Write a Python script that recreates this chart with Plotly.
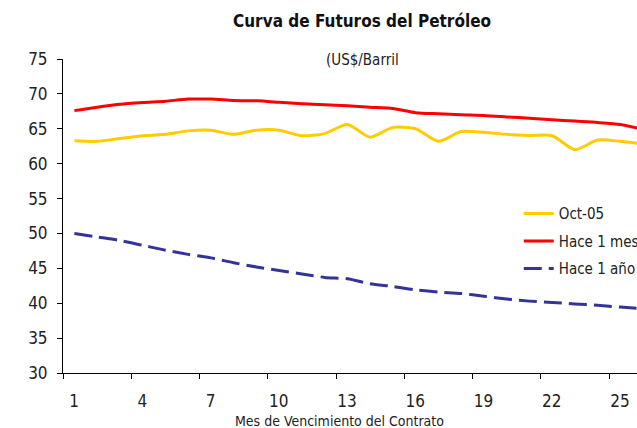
import plotly.graph_objects as go

months = list(range(1, 27))
oct05 = [63.3, 63.2, 63.6, 64.0, 64.2, 64.7, 64.8, 64.2, 64.8, 64.8, 64.0, 64.3,
         65.6, 63.8, 65.2, 65.0, 63.2, 64.6, 64.5, 64.2, 64.05, 64.0, 62.0, 63.4,
         63.2, 62.8]
hace_mes = [67.6, 68.1, 68.5, 68.75, 68.95, 69.25, 69.25, 69.05, 69.0, 68.8, 68.6, 68.45,
            68.3, 68.1, 67.9, 67.3, 67.15, 67.0, 66.9, 66.7, 66.5, 66.3, 66.1, 65.9,
            65.6, 64.9]
hace_anio = [50.0, 49.5, 49.0, 48.3, 47.6, 47.0, 46.5, 45.8, 45.2, 44.7, 44.2, 43.7,
             43.5, 42.8, 42.4, 41.9, 41.6, 41.4, 41.0, 40.6, 40.3, 40.1, 39.9, 39.7,
             39.45, 39.2]

tick_labels = ["1", "4", "7", "10", "13", "16", "19", "22", "25"]
label_months = [1, 4, 7, 10, 13, 16, 19, 22, 25]
boundary_ticks = [m - 0.5 for m in label_months]

FONT = "DejaVu Sans Condensed, Liberation Sans Narrow, Arial Narrow, sans-serif"

fig = go.Figure()
fig.add_trace(go.Scatter(x=months, y=oct05, name="Oct-05", mode="lines", legendgroup="a",
                         line=dict(color="#FFCC00", width=3, shape="spline", smoothing=0.7)))
fig.add_trace(go.Scatter(x=months, y=hace_mes, name="Hace 1 mes", mode="lines", legendgroup="b",
                         line=dict(color="#FF0000", width=3, shape="spline", smoothing=0.7)))
fig.add_trace(go.Scatter(x=months, y=hace_anio, name="Hace 1 año", mode="lines", legendgroup="c",
                         line=dict(color="#333399", width=3, dash="18px,7px",
                                   shape="spline", smoothing=0.7)))

fig.update_layout(
    width=637, height=428,
    margin=dict(l=63, r=0, t=59, b=55, autoexpand=False),
    paper_bgcolor="white", plot_bgcolor="white",
    font=dict(family=FONT, size=17, color="#222222"),
    showlegend=True,
    legend=dict(x=0.794, y=0.56, xanchor="left", yanchor="top", tracegroupgap=5,
                bgcolor="rgba(0,0,0,0)", font=dict(size=15, color="#222222")),
    xaxis=dict(range=[0.5, 25.73], tickmode="array", tickvals=boundary_ticks,
               ticktext=tick_labels, ticklabelshift=11, ticks="outside", ticklen=5,
               tickcolor="black", showline=True, linecolor="black", linewidth=1,
               showgrid=False, zeroline=False, ticklabelstandoff=8),
    yaxis=dict(range=[30, 75], dtick=5, ticks="outside", ticklen=5, tickcolor="black",
               showline=True, linecolor="black", linewidth=1, showgrid=False,
               zeroline=False, ticklabelstandoff=6),
    annotations=[
        dict(text="<b>Curva de Futuros del Petróleo</b>", xref="paper", yref="paper",
             x=(362 - 63) / 574, y=1 + (59 - 21) / 314, xanchor="center", yanchor="middle",
             showarrow=False, font=dict(size=17, color="#111111")),
        dict(text="(US$/Barril", xref="paper", yref="paper",
             x=(362 - 63) / 574, y=1 + (59 - 60) / 314, xanchor="center", yanchor="middle",
             showarrow=False, font=dict(size=15, color="#222222")),
        dict(text="Mes de Vencimiento del Contrato", xref="paper", yref="paper",
             x=(339.5 - 63) / 574, y=-(421 - 373) / 314, xanchor="center", yanchor="middle",
             showarrow=False, font=dict(size=14, color="#222222")),
    ],
)

fig.write_html("out.html", config={"displayModeBar": False},
               post_script="document.body.style.margin='0';")
